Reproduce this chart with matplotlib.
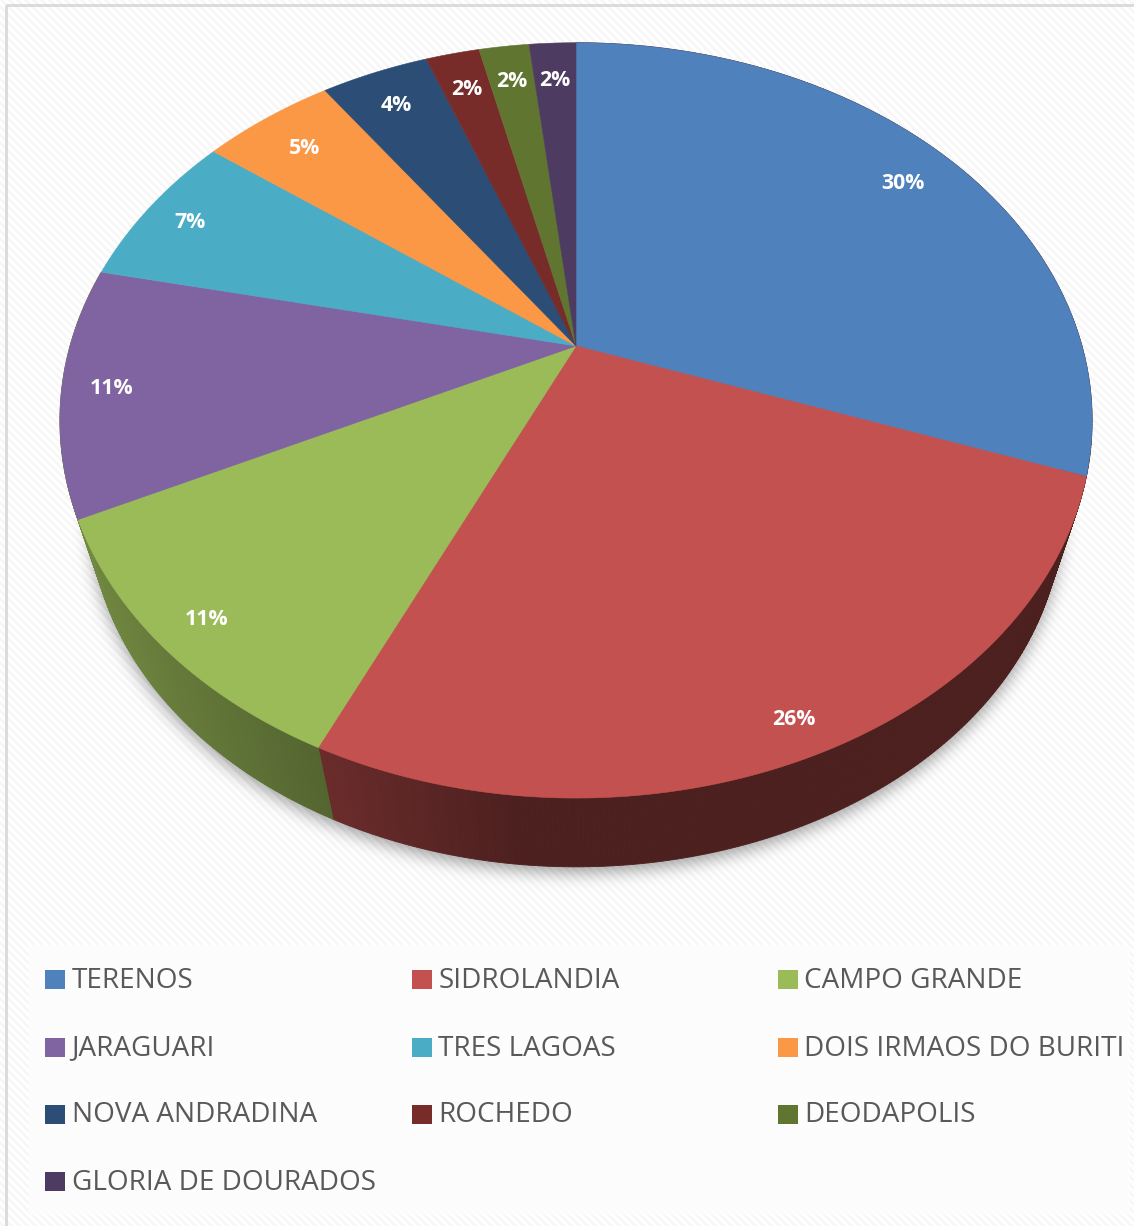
import numpy as np
import matplotlib
matplotlib.use('Agg')
import matplotlib.pyplot as plt
from matplotlib.patches import Polygon, Rectangle
from matplotlib.path import Path

categories = ['TERENOS', 'SIDROLANDIA', 'CAMPO GRANDE', 'JARAGUARI', 'TRES LAGOAS',
              'DOIS IRMAOS DO BURITI', 'NOVA ANDRADINA', 'ROCHEDO', 'DEODAPOLIS',
              'GLORIA DE DOURADOS']
values = [30.45, 26.42, 10.93, 10.6, 6.82, 5.01, 4.07, 2.03, 1.9, 1.77]
colors = ['#4F81BD', '#C3514F', '#9BBB59', '#8064A2', '#4BACC6',
          '#FA9846', '#2C4D75', '#772C2A', '#5F7530', '#4D3B62']
label_r = [.868, .923, .91, .905, .90, .865, .875, .868, .876, .868]

W, H = 1134, 1226
CX, CY = 576, 346      # apex of the pie
A, B, P = 506, 363, .197   # perspective of the top face
WALL_S, WALL_Y = .942, 441  # lower rim is the top rim scaled about this
# the side slivers next to the front slices take the neighbour's colour
wall_index = {0: 1, 1: 1, 2: 2, 3: 2}


def project(theta, r=1.0):
    # theta clockwise from 12 o'clock, on a unit disc tipped back
    x, y = r * np.sin(theta), r * np.cos(theta)
    d = 1 + P * y
    return CX + A * x / d, CY - B * y / d


def lower(sx, sy):
    return CX + WALL_S * (sx - CX), WALL_Y + WALL_S * (sy - CY)


def shade(color, x):
    f = np.clip(.78 - .00075 * x, .39, 1)
    return tuple(c * f for c in matplotlib.colors.to_rgb(color))


def blur(img, sigma):
    fy = np.fft.fftfreq(img.shape[0])[:, None]
    fx = np.fft.rfftfreq(img.shape[1])[None, :]
    g = np.exp(-2 * (np.pi * sigma) ** 2 * (fx ** 2 + fy ** 2))
    return np.fft.irfft2(np.fft.rfft2(img) * g, s=img.shape)


fig = plt.figure(figsize=(W / 100, H / 100), dpi=100)
ax = fig.add_axes([0, 0, 1, 1])
ax.set_xlim(0, W)
ax.set_ylim(H, 0)
ax.axis('off')

# striped chart background
yy, xx = np.mgrid[0:H, 0:W]
stripes = np.where((xx - yy) % 8 < 4, .965, 1.0)
ax.imshow(stripes, cmap='gray', vmin=0, vmax=1, extent=(0, W, H, 0),
          interpolation='bilinear', aspect='auto', zorder=0)
ax.add_patch(Rectangle((6, 5), W + 20, H + 20, fill=False, ec='#d9d9d9', lw=2, zorder=1))
ax.add_patch(Rectangle((28, 945), 1102, 270, fc='#fdfdfd', ec='none', alpha=.9, zorder=1))

edges = np.cumsum([0] + values) / sum(values) * 2 * np.pi

# soft shadow under the lower rim
th = np.linspace(0, 2 * np.pi, 361)
rx, ry = lower(*project(th))
pts = np.column_stack([xx.ravel() + .5, yy.ravel() + .5])
mask = Path(np.column_stack([rx, ry + 6])).contains_points(pts).reshape(H, W).astype(float)
rgba = np.zeros((H, W, 4))
rgba[..., 3] = .37 * blur(mask, 8)
ax.imshow(rgba, extent=(0, W, H, 0), interpolation='bilinear', aspect='auto', zorder=2)

# side wall, cut in small strips to get the shading
for i, j in wall_index.items():
    ts = np.linspace(edges[i], edges[i + 1], max(2, int((edges[i + 1] - edges[i]) * 120)))
    for t0, t1 in zip(ts[:-1], ts[1:]):
        x0, y0 = project(t0)
        x1, y1 = project(t1)
        x2, y2 = lower(x1, y1)
        x3, y3 = lower(x0, y0)
        c = shade(colors[j], (x0 + x1) / 2)
        ax.add_patch(Polygon([(x0, y0), (x1, y1), (x2, y2), (x3, y3)], fc=c, ec=c,
                             lw=.6, zorder=3))

# top face
for i, color in enumerate(colors):
    ts = np.linspace(edges[i], edges[i + 1], 120)
    px, py = project(ts)
    ax.add_patch(Polygon([(CX, CY)] + list(zip(px, py)), fc=color, ec=color, lw=.4, zorder=4))

# percentage labels
for i, v in enumerate(values):
    mid = (edges[i] + edges[i + 1]) / 2
    lx, ly = project(mid, label_r[i])
    ax.text(lx, ly + 3, f'{v:.0f}%', color='white', fontsize=15.3, fontweight='bold',
            family='Open Sans', ha='center', va='center', zorder=5)

# legend
col_x = [45, 412, 778]
row_y = [979.5, 1047, 1114, 1181]
for i, name in enumerate(categories):
    lx, ly = col_x[i % 3], row_y[i // 3]
    ax.add_patch(Rectangle((lx, ly - 9.5), 20, 19, fc=colors[i], ec='none', zorder=5))
    ax.text(lx + 26.5, ly + 1.5, name, color='#595959', fontsize=20.1, family='Open Sans',
            ha='left', va='center', zorder=5)

fig.savefig('out.png', dpi=100)
